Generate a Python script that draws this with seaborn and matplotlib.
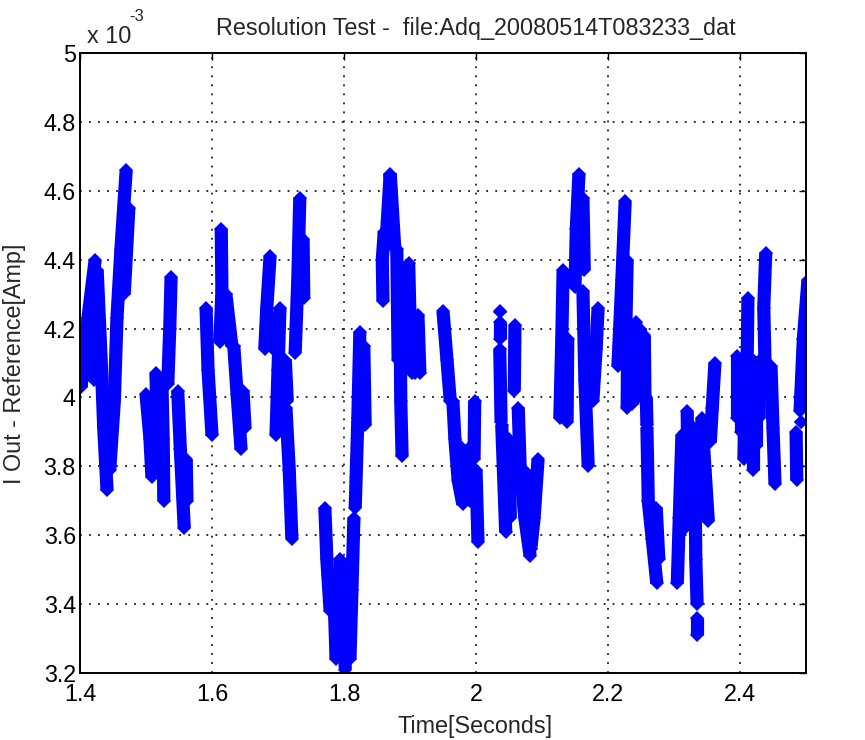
import numpy as np
import pandas as pd
import matplotlib
matplotlib.use("Agg")
import matplotlib.pyplot as plt
from matplotlib.ticker import FuncFormatter
import seaborn as sns

# ---- data: strokes of the sampled trace (time [s], current [x1e-3 A]) ----
seg_140_150 = [
    [(1.402, 4.03), (1.404, 4.15)],
    [(1.405, 4.05), (1.412, 4.23), (1.423, 4.40)],
    [(1.418, 4.30), (1.421, 4.05)],
    [(1.426, 4.37), (1.432, 4.11), (1.436, 3.91), (1.441, 3.73)],
    [(1.445, 3.79), (1.452, 3.99), (1.456, 4.23), (1.462, 4.43), (1.470, 4.66)],
    [(1.467, 4.30), (1.474, 4.55)],
]
seg_150_160 = [
    [(1.500, 4.01), (1.506, 3.88), (1.509, 3.77)],
    [(1.515, 4.07), (1.517, 3.94), (1.518, 3.82)],
    [(1.524, 4.05), (1.526, 3.88), (1.527, 3.70)],
    [(1.538, 4.35), (1.536, 4.20), (1.533, 4.04)],
    [(1.548, 4.02), (1.552, 3.85), (1.558, 3.62)],
    [(1.561, 3.82), (1.562, 3.70)],
    [(1.591, 4.26), (1.594, 4.08), (1.600, 3.89)],
]
seg_160_170 = [
    [(1.614, 4.49), (1.615, 4.31), (1.612, 4.16)],
    [(1.621, 4.30), (1.630, 4.15)],
    [(1.633, 4.15), (1.638, 4.01), (1.644, 3.85)],
    [(1.647, 4.02), (1.650, 3.91)],
    [(1.688, 4.41), (1.683, 4.26), (1.680, 4.14)],
    [(1.691, 4.23), (1.692, 4.14)],
    [(1.703, 4.26), (1.700, 4.08), (1.697, 3.89)],
    [(1.711, 4.11), (1.714, 3.99)],
]
seg_170_180 = [
    [(1.712, 3.97), (1.717, 3.79), (1.721, 3.59)],
    [(1.726, 4.13), (1.730, 4.34), (1.733, 4.58)],
    [(1.738, 4.46), (1.739, 4.29)],
    [(1.771, 3.68), (1.774, 3.53), (1.779, 3.38)],
    [(1.783, 3.49), (1.786, 3.36), (1.788, 3.24)],
    [(1.790, 3.50), (1.792, 3.30)],
    [(1.794, 3.53), (1.799, 3.36), (1.802, 3.21)],
]
seg_180_190 = [
    [(1.809, 3.24), (1.812, 3.44), (1.815, 3.65)],
    [(1.817, 3.68), (1.821, 3.94), (1.824, 4.19)],
    [(1.830, 4.15), (1.832, 3.92)],
    [(1.859, 4.28), (1.858, 4.40), (1.861, 4.48)],
    [(1.864, 4.46), (1.870, 4.65), (1.877, 4.43)],
    [(1.880, 4.43), (1.882, 4.11)],
    [(1.885, 4.23), (1.886, 3.99), (1.888, 3.83)],
    [(1.898, 4.39), (1.900, 4.23), (1.903, 4.07)],
    [(1.906, 4.22), (1.908, 4.07)],
    [(1.912, 4.24), (1.915, 4.07)],
]
seg_190_200 = [
    [(1.950, 4.25), (1.956, 4.11), (1.961, 3.99)],
    [(1.965, 3.99), (1.968, 3.88), (1.973, 3.76), (1.980, 3.69)],
    [(1.975, 3.86), (1.985, 3.72)],
    [(1.988, 3.85), (1.991, 3.70)],
    [(1.998, 3.99), (1.997, 3.82)],
]
seg_200_210 = [
    [(2.000, 3.79), (2.003, 3.58)],
    [(2.036, 4.250), (2.036, 4.248)],
    [(2.036, 4.22), (2.036, 4.17)],
    [(2.036, 4.14), (2.038, 3.93)],
    [(2.039, 3.92), (2.045, 3.61)],
    [(2.050, 3.88), (2.052, 3.65)],
    [(2.059, 4.21), (2.058, 4.02)],
    [(2.064, 3.97), (2.067, 3.79)],
    [(2.067, 3.80), (2.074, 3.65), (2.082, 3.54)],
    [(2.078, 3.78), (2.080, 3.58)],
    [(2.094, 3.82), (2.088, 3.65), (2.083, 3.56)],
]
seg_210_220 = [
    [(2.132, 4.37), (2.130, 4.17), (2.127, 3.94)],
    [(2.134, 4.15), (2.134, 3.95)],
    [(2.139, 4.17), (2.138, 3.93)],
    [(2.150, 4.32), (2.152, 4.49), (2.156, 4.65)],
    [(2.162, 4.58), (2.164, 4.37)],
    [(2.162, 4.31), (2.165, 4.05), (2.170, 3.80)],
    [(2.185, 4.26), (2.182, 4.14), (2.177, 3.99)],
]
seg_220_230 = [
    [(2.226, 4.57), (2.221, 4.34), (2.215, 4.09)],
    [(2.229, 4.40), (2.227, 4.20)],
    [(2.230, 4.20), (2.229, 3.97)],
    [(2.236, 4.20), (2.236, 3.98)],
    [(2.242, 4.22), (2.245, 4.02)],
    [(2.249, 4.20), (2.250, 4.00)],
    [(2.255, 4.18), (2.256, 3.99)],
    [(2.258, 4.00), (2.259, 3.92)],
    [(2.259, 3.91), (2.261, 3.70), (2.267, 3.59), (2.274, 3.46)],
    [(2.273, 3.68), (2.277, 3.53)],
]
seg_230_240 = [
    [(2.312, 3.89), (2.308, 3.65), (2.305, 3.46)],
    [(2.316, 3.90), (2.316, 3.62)],
    [(2.320, 3.96), (2.321, 3.79), (2.324, 3.68)],
    [(2.326, 3.92), (2.328, 3.75)],
    [(2.332, 3.88), (2.333, 3.70)],
    [(2.332, 3.73), (2.333, 3.53), (2.335, 3.40)],
    [(2.335, 3.36), (2.335, 3.31)],
    [(2.340, 3.82), (2.343, 3.70)],
    [(2.342, 3.94), (2.347, 3.79), (2.352, 3.64)],
    [(2.362, 4.10), (2.358, 3.97), (2.355, 3.87)],
]
seg_240_250 = [
    [(2.396, 4.12), (2.396, 3.94)],
    [(2.402, 4.10), (2.402, 3.90)],
    [(2.408, 4.11), (2.406, 3.82)],
    [(2.414, 4.10), (2.414, 3.85)],
    [(2.420, 4.11), (2.420, 3.79)],
    [(2.425, 4.10), (2.425, 3.86)],
    [(2.430, 4.11), (2.429, 3.94)],
    [(2.412, 4.29), (2.411, 4.13)],
    [(2.439, 4.42), (2.436, 4.26), (2.438, 4.09)],
    [(2.447, 4.09), (2.450, 3.91), (2.453, 3.75)],
    [(2.485, 3.90), (2.486, 3.76)],
    [(2.492, 3.930), (2.492, 3.928)],
    [(2.491, 3.96), (2.496, 4.17), (2.503, 4.34)],
]

x_ticks = [1.4, 1.6, 1.8, 2.0, 2.2, 2.4]
y_ticks = [3.2, 3.4, 3.6, 3.8, 4.0, 4.2, 4.4, 4.6, 4.8, 5.0]
title_text = "Resolution Test -  file:Adq_20080514T083233_dat"
x_label = "Time[Seconds]"
y_label = "I Out - Reference[Amp]"

# ---- build long table ----
rows = []
sid = 0
for group in [seg_140_150, seg_150_160, seg_160_170, seg_170_180, seg_180_190,
              seg_190_200, seg_200_210, seg_210_220, seg_220_230, seg_230_240,
              seg_240_250]:
    for stroke in group:
        sid += 1
        for t, v in stroke:
            rows.append((sid, t, v))
df = pd.DataFrame(rows, columns=["stroke", "time_s", "current"])

# ---- style ----
sns.set_style("white")
plt.rcParams["font.family"] = ["Liberation Sans", "DejaVu Sans"]
FS = 16.8

W, H = 865, 740
fig = plt.figure(figsize=(W / 100, H / 100), dpi=100)
ax = fig.add_axes([80 / W, 1 - 673 / H, 726 / W, 620 / H])

sns.lineplot(data=df, x="time_s", y="current", units="stroke", estimator=None,
             sort=False, color="#0000ff", linewidth=9.5, marker="D",
             markersize=7.5, markeredgewidth=0, solid_capstyle="butt",
             solid_joinstyle="miter", legend=False, ax=ax)

ax.set_xlim(1.4, 2.5)
ax.set_ylim(3.2, 5.0)
ax.set_xticks(x_ticks)
ax.set_yticks(y_ticks)
fmt = FuncFormatter(lambda v, p: "%g" % round(v, 3))
ax.xaxis.set_major_formatter(fmt)
ax.yaxis.set_major_formatter(fmt)
ax.set_xlabel("")
ax.set_ylabel("")

ax.set_axisbelow(True)
ax.grid(True, linestyle=(0, (1, 4)), color="#1a1a1a", linewidth=1.3)
for s in ax.spines.values():
    s.set_visible(True)
    s.set_color("black")
    s.set_linewidth(1.4)
ax.tick_params(direction="in", length=5, width=1, top=True, right=True,
               labelsize=FS, colors="black")
ax.tick_params(axis="x", pad=7)
ax.tick_params(axis="y", pad=3)

fig.text(476 / W, 1 - 35 / H, title_text, ha="center", va="baseline", fontsize=FS)
fig.text(475 / W, 1 - 733 / H, x_label, ha="center", va="baseline", fontsize=FS)
fig.text(15 / W, 1 - 364 / H, y_label, ha="center", va="center", rotation=90,
         fontsize=FS)
fig.text(87 / W, 1 - 43 / H, "x 10", ha="left", va="baseline", fontsize=FS)
fig.text(129 / W, 1 - 21 / H, "-3", ha="left", va="baseline", fontsize=12)

fig.savefig("out.png", dpi=100, facecolor="white")
